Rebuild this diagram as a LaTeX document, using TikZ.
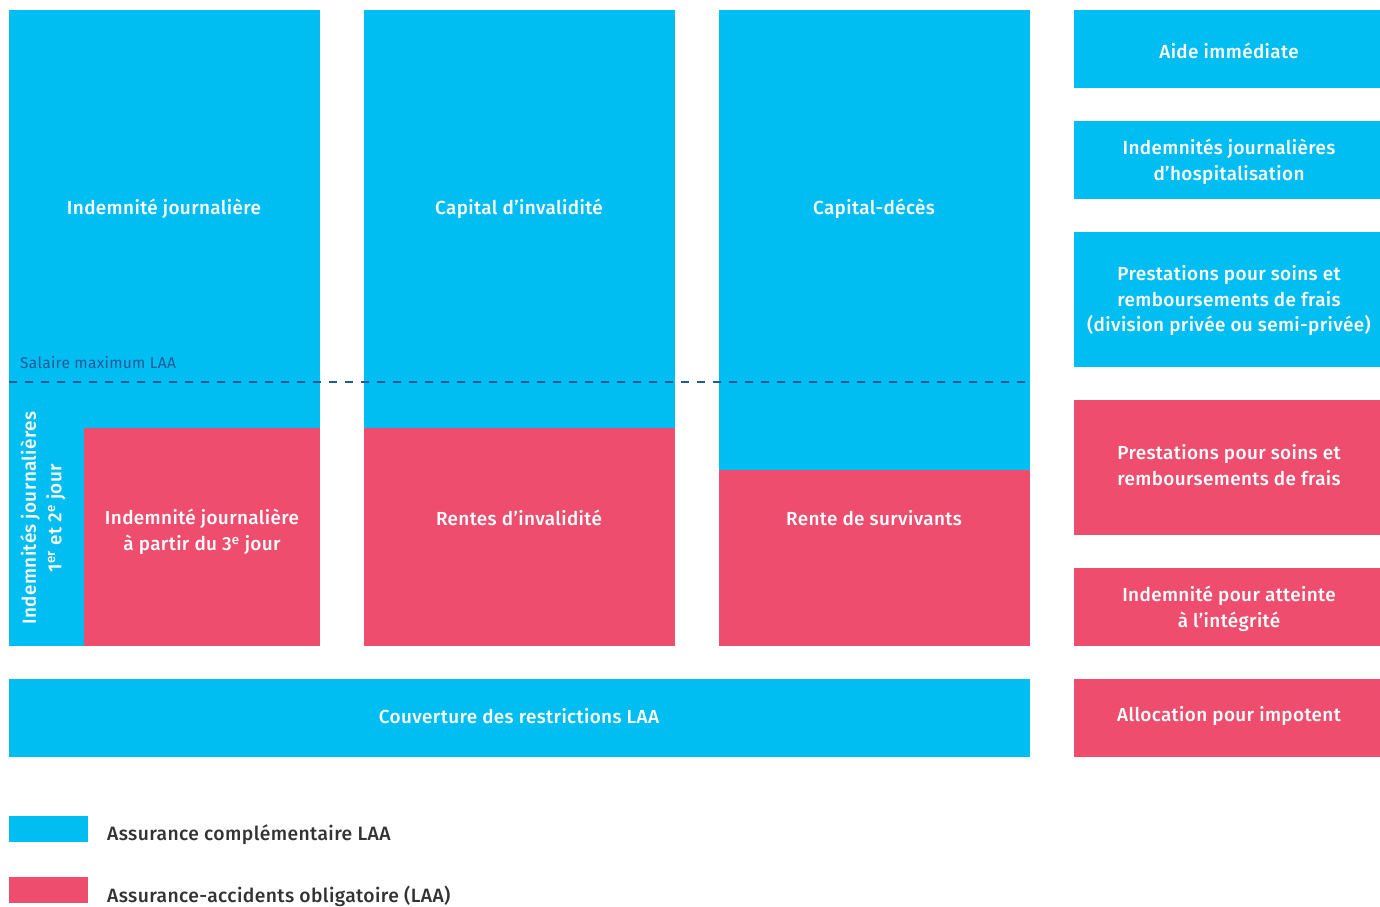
\documentclass[tikz,border=0pt]{standalone}
\usepackage{fontspec}
\setmainfont{Fira Sans}[UprightFont=* Medium, LetterSpace=2]
\newfontfamily\regfont{Fira Sans}[LetterSpace=2]
\definecolor{cyanbox}{HTML}{00BDF2}
\definecolor{pinkbox}{HTML}{EF4D6E}
\definecolor{dashblue}{HTML}{1F5A99}
\definecolor{legtext}{HTML}{333333}
\begin{document}
\begin{tikzpicture}[x=1pt,y=-1pt,
  rect/.style={anchor=north west,inner sep=0pt,outer sep=0pt,draw=none},
  cy/.style={rect,fill=cyanbox},
  pk/.style={rect,fill=pinkbox},
  lbl/.style={text=white,font=\fontsize{18.9}{25.5}\selectfont,align=center,inner sep=0pt},
  legl/.style={text=legtext,font=\fontsize{19.3}{24}\selectfont,anchor=west,inner sep=0pt}
]
\useasboundingbox (0,0) rectangle (1380,906);
% column 1
\node[cy,minimum width=311pt,minimum height=636pt] (c1b) at (9,10) {};
\node[pk,minimum width=236pt,minimum height=218pt] (c1p) at (84,428) {};
% column 2
\node[cy,minimum width=311pt,minimum height=418pt] (c2b) at (364,10) {};
\node[pk,minimum width=311pt,minimum height=218pt] (c2p) at (364,428) {};
% column 3
\node[cy,minimum width=311pt,minimum height=460pt] (c3b) at (719,10) {};
\node[pk,minimum width=311pt,minimum height=176pt] (c3p) at (719,470) {};
% bottom bar
\node[cy,minimum width=1021pt,minimum height=78pt] (bar) at (9,679) {};
\node[lbl] (tbar) at (519,716) {Couverture des restrictions LAA};
% right column
\node[cy,minimum width=306pt,minimum height=78pt] (r1) at (1074,10) {};
\node[cy,minimum width=306pt,minimum height=78pt] (r2) at (1074,121) {};
\node[cy,minimum width=306pt,minimum height=135pt] (r3) at (1074,232) {};
\node[pk,minimum width=306pt,minimum height=135pt] (r4) at (1074,400) {};
\node[pk,minimum width=306pt,minimum height=78pt] (r5) at (1074,568) {};
\node[pk,minimum width=306pt,minimum height=78pt] (r6) at (1074,679) {};
\node[lbl] (tr1) at (1229,51) {Aide immédiate};
\node[lbl] (tr2) at (1229,162) {Indemnités journalières\\d’hospitalisation};
\node[lbl] (tr3) at (1229,301) {Prestations pour soins et\\remboursements de frais\\(division privée ou semi-privée)};
\node[lbl] (tr4) at (1229,465) {Prestations pour soins et\\remboursements de frais};
\node[lbl] (tr5) at (1229,609) {Indemnité pour atteinte\\à l’intégrité};
\node[lbl] (tr6) at (1229,716) {Allocation pour impotent};
% column texts
\node[lbl] (t1a) at (164,209) {Indemnité journalière};
\node[lbl] (t2a) at (519,209) {Capital d’invalidité};
\node[lbl] (t3a) at (874,209) {Capital-décès};
\node[lbl] (t1b) at (202,532) {Indemnité journalière\\à partir du 3\textsuperscript{e} jour};
\node[lbl] (t2b) at (519,518) {Rentes d’invalidité};
\node[lbl] (t3b) at (874,518) {Rente de survivants};
\node[lbl,rotate=90] (tv) at (43,518) {Indemnités journalières\\1\textsuperscript{er} et 2\textsuperscript{e} jour};
% dashed line
\coordinate (dl) at (9,382);
\coordinate (dr) at (1030,382);
\draw[dashblue,line width=2.6pt,dash pattern=on 8pt off 8pt] (dl) -- (dr);
\node[text=dashblue,font=\regfont\fontsize{15.5}{18}\selectfont,anchor=west,inner sep=0pt] (sal) at (20,363) {Salaire maximum LAA};
% legend
\node[cy,minimum width=79pt,minimum height=26pt] (lg1) at (9,816) {};
\node[pk,minimum width=79pt,minimum height=26pt] (lg2) at (9,877) {};
\node[legl] (lt1) at (107,835) {Assurance complémentaire LAA};
\node[legl] (lt2) at (107,896) {Assurance-accidents obligatoire (LAA)};
\end{tikzpicture}
\end{document}
